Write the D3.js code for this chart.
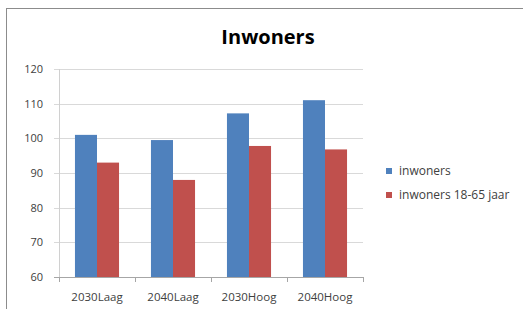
<!DOCTYPE html>
<html>
<head>
<meta charset="utf-8">
<script src="https://cdn.jsdelivr.net/npm/d3@7"></script>
<style>
  body { margin: 0; background: #fff; }
  text { font-family: "Open Sans", "Liberation Sans", sans-serif; }
</style>
</head>
<body>
<div class="chart"></div>
<script>
// data
var categories = ["2030Laag", "2040Laag", "2030Hoog", "2040Hoog"],
  seriesNames = ["inwoners", "inwoners 18-65 jaar"],
  inwoners = [101, 99.5, 107.2, 111],
  inwoners1865 = [93, 88, 97.8, 96.8],
  yTicks = [60, 70, 80, 90, 100, 110, 120];

var width = 523,
  height = 309,
  colors = ["#4f81bd", "#c0504d"],
  plotLeft = 59,
  plotRight = 363,
  plotTop = 69,
  plotBottom = 277;

var svg = d3.select(".chart").append("svg")
  .attr("width", width)
  .attr("height", height);

// chart frame
svg.append("rect")
  .attr("x", 6.5).attr("y", 8.5)
  .attr("width", 530).attr("height", 310)
  .attr("fill", "#fff")
  .attr("stroke", "#8c8c8c");

var x = d3.scaleBand()
  .domain(categories)
  .range([plotLeft, plotRight])
  .paddingInner(0.42)
  .paddingOuter(0.21);

var xSeries = d3.scaleBand()
  .domain(seriesNames)
  .range([0, x.bandwidth()]);

var y = d3.scaleLinear()
  .domain([60, 120])
  .range([plotBottom, plotTop]);

// gridlines
svg.append("g")
  .selectAll("line")
  .data(yTicks)
  .enter().append("line")
    .attr("x1", plotLeft - 5)
    .attr("x2", plotRight)
    .attr("y1", function(d) { return Math.round(y(d)) + 0.5; })
    .attr("y2", function(d) { return Math.round(y(d)) + 0.5; })
    .attr("stroke", function(d) { return d === 60 ? "#a6a6a6" : "#d9d9d9"; });

// y labels
svg.append("g")
  .selectAll("text")
  .data(yTicks)
  .enter().append("text")
    .attr("x", 43)
    .attr("y", function(d) { return y(d); })
    .attr("dy", "0.35em")
    .attr("text-anchor", "end")
    .style("font-size", "11px")
    .style("fill", "#404040")
    .text(function(d) { return d; });

// y axis line
svg.append("line")
  .attr("x1", plotLeft + 0.5).attr("x2", plotLeft + 0.5)
  .attr("y1", plotTop).attr("y2", plotBottom)
  .attr("stroke", "#d0d0d0");

// bars
var rows = categories.map(function(c, i) {
  return { cat: c, values: [inwoners[i], inwoners1865[i]] };
});

var groups = svg.append("g")
  .selectAll("g")
  .data(rows)
  .enter().append("g")
    .attr("transform", function(d) { return "translate(" + x(d.cat) + ",0)"; });

groups.selectAll("rect")
  .data(function(d) {
    return d.values.map(function(v, j) { return { name: seriesNames[j], value: v, j: j }; });
  })
  .enter().append("rect")
    .attr("x", function(d) { return xSeries(d.name); })
    .attr("y", function(d) { return y(d.value); })
    .attr("width", xSeries.bandwidth())
    .attr("height", function(d) { return plotBottom - y(d.value); })
    .attr("fill", function(d) { return colors[d.j]; });

// x tick marks
var step = (plotRight - plotLeft) / categories.length;
svg.append("g")
  .selectAll("line")
  .data(d3.range(categories.length + 1))
  .enter().append("line")
    .attr("x1", function(d) { return Math.round(plotLeft + d * step) + 0.5; })
    .attr("x2", function(d) { return Math.round(plotLeft + d * step) + 0.5; })
    .attr("y1", plotBottom)
    .attr("y2", plotBottom + 5)
    .attr("stroke", "#a6a6a6");

// x labels
svg.append("g")
  .selectAll("text")
  .data(categories)
  .enter().append("text")
    .attr("x", function(d) { return x(d) + x.bandwidth() / 2; })
    .attr("y", 297)
    .attr("dy", "0.35em")
    .attr("text-anchor", "middle")
    .style("font-size", "11.5px")
    .style("fill", "#404040")
    .text(function(d) { return d; });

// title
svg.append("text")
  .attr("x", 268)
  .attr("y", 44)
  .attr("text-anchor", "middle")
  .style("font-size", "20px")
  .style("font-weight", "bold")
  .style("fill", "#000")
  .text("Inwoners");

// legend
var legend = svg.append("g")
  .selectAll("g")
  .data(seriesNames)
  .enter().append("g")
    .attr("transform", function(d, i) { return "translate(386," + (171 + i * 24) + ")"; });

legend.append("rect")
  .attr("x", 0).attr("y", -3)
  .attr("width", 6).attr("height", 6)
  .attr("fill", function(d, i) { return colors[i]; });

legend.append("text")
  .attr("x", 13)
  .attr("dy", "0.35em")
  .style("font-size", "12px")
  .style("fill", "#404040")
  .text(function(d) { return d; });
</script>
</body>
</html>
